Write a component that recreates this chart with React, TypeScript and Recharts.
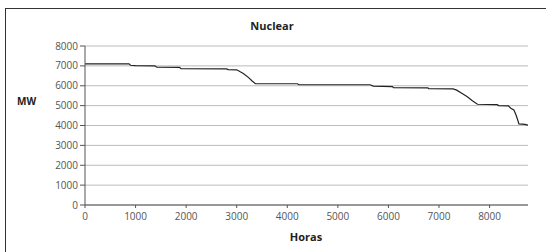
import React from "react";
import { LineChart, Line, XAxis, YAxis, CartesianGrid } from "recharts";

const hours = [0, 870, 900, 1000, 1380, 1420, 1870, 1900, 2800, 2830, 3000, 3070, 3130, 3230, 3300, 3370, 4200, 4230, 5640, 5700, 6080, 6100, 6780, 6800, 7280, 7350, 7450, 7560, 7660, 7760, 8150, 8180, 8370, 8420, 8480, 8520, 8560, 8580, 8700, 8760];
const mw = [7100, 7100, 7030, 7010, 7000, 6930, 6920, 6860, 6850, 6810, 6800, 6700, 6620, 6420, 6250, 6100, 6100, 6050, 6050, 5980, 5960, 5900, 5890, 5850, 5840, 5780, 5620, 5450, 5250, 5070, 5050, 5000, 4990, 4870, 4780, 4550, 4250, 4080, 4060, 4020];
const xTicks = [0, 1000, 2000, 3000, 4000, 5000, 6000, 7000, 8000];
const yTicks = [0, 1000, 2000, 3000, 4000, 5000, 6000, 7000, 8000];

const data = hours.map((h, i) => ({ h, v: mw[i] }));

const font = "'Open Sans', 'DejaVu Sans', sans-serif";
const tickStyle = { fontSize: 10, fill: "#555", fontFamily: font };

export default function App() {
  return (
    <div style={{ position: "absolute", left: 0, top: 0, width: 546, height: 252, overflow: "hidden", background: "#fff" }}>
      <div style={{ position: "absolute", left: 5, top: 8, width: 600, height: 300, borderLeft: "1.5px solid #333", borderTop: "1.5px solid #333" }} />
      <div style={{ position: "absolute", left: 272, top: 18, transform: "translateX(-50%)", fontFamily: font, fontWeight: 700, fontSize: 11, color: "#222" }}>Nuclear</div>
      <div style={{ position: "absolute", left: 17, top: 94, fontFamily: font, fontWeight: 700, fontSize: 10, color: "#222" }}>MW</div>
      <div style={{ position: "absolute", left: 306, top: 229, transform: "translateX(-50%)", fontFamily: font, fontWeight: 700, fontSize: 11, color: "#222" }}>Horas</div>
      <LineChart width={546} height={252} data={data} margin={{ top: 46, right: 18, left: 25, bottom: 0 }} style={{ position: "absolute", left: 0, top: 0 }}>
        <CartesianGrid vertical={false} stroke="#bbb" strokeWidth={1} />
        <XAxis
          dataKey="h"
          type="number"
          domain={[0, 8760]}
          ticks={xTicks}
          interval={0}
          allowDataOverflow
          stroke="#555"
          tick={tickStyle}
          tickSize={3}
          tickMargin={5}
          height={47}
        />
        <YAxis
          type="number"
          domain={[0, 8000]}
          ticks={yTicks}
          interval={0}
          stroke="#555"
          tick={tickStyle}
          tickSize={5}
          tickMargin={2}
          width={60}
        />
        <Line type="linear" dataKey="v" stroke="#222" strokeWidth={1.2} dot={false} isAnimationActive={false} />
      </LineChart>
    </div>
  );
}
